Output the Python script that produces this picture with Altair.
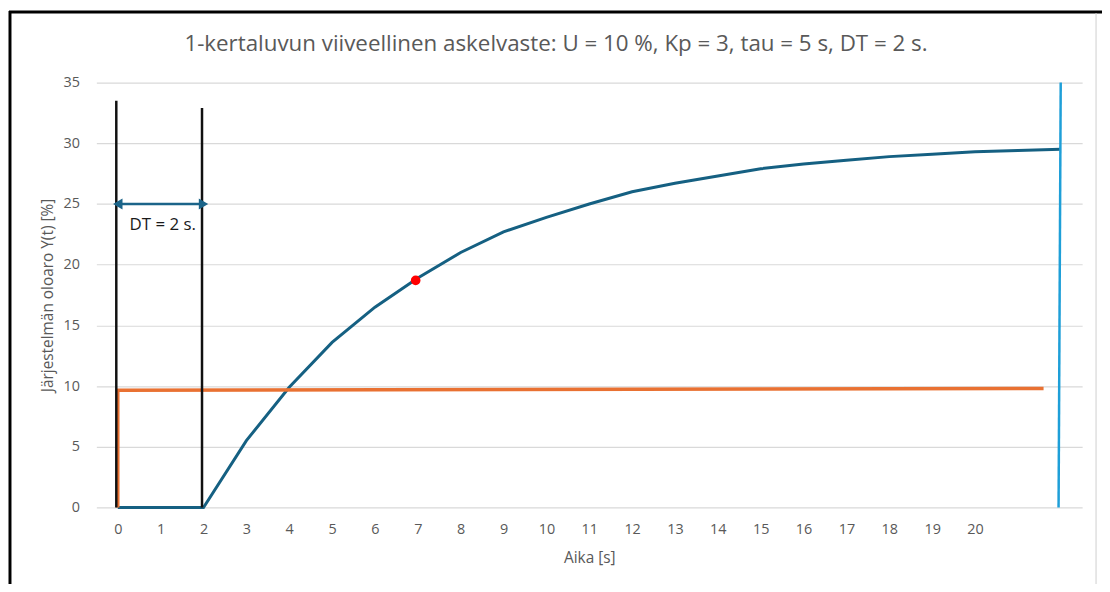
import altair as alt
import pandas as pd

# ---- data ----
time_s = list(range(23))
response = [0, 0, 0, 5.5, 9.9, 13.6, 16.5, 18.9, 21.0, 22.7, 23.9, 25.0, 26.0,
            26.7, 27.3, 27.9, 28.3, 28.6, 28.9, 29.1, 29.3, 29.4, 29.5]

step_t = [0, 0, 21.6]
step_y = [0, 9.65, 9.8]

delay_lines_x = [0, 2]
delay_lines_top = [33.5, 32.9]

end_line_x = [21.95, 22.0]
end_line_y = [0, 35]

dot_t = [6.95]
dot_y = [18.7]

arrow_x = [0, 2]
arrow_y = [25, 25]
arrow_label = "DT = 2 s."
arrow_label_pos = [1.05, 23.3]

x_ticks = list(range(21))
y_ticks = [0, 5, 10, 15, 20, 25, 30, 35]

TITLE = "1-kertaluvun viiveellinen askelvaste: U = 10 %, Kp = 3, tau = 5 s, DT = 2 s."
FONT = "Open Sans"
GRAY = "#595959"

W, H = 993, 428

xs = alt.Scale(domain=[-0.5, 22.5], nice=False, zero=False)
ys = alt.Scale(domain=[0, 35], nice=False)

df_resp = pd.DataFrame({"t": time_s, "y": response})
df_step = pd.DataFrame({"t": step_t, "y": step_y, "o": range(len(step_t))})
df_delay = pd.DataFrame({"x": delay_lines_x, "y0": [0, 0], "y1": delay_lines_top})
df_end = pd.DataFrame({"x": [end_line_x[0]], "x2": [end_line_x[1]],
                       "y": [end_line_y[0]], "y2": [end_line_y[1]]})
df_dot = pd.DataFrame({"t": dot_t, "y": dot_y})
df_arrow = pd.DataFrame({"x": [arrow_x[0]], "x2": [arrow_x[1]], "y": [arrow_y[0]]})
df_heads = pd.DataFrame({"x": arrow_x, "y": arrow_y,
                         "shape": ["triangle-left", "triangle-right"],
                         "off": [5.5, -5.5]})
df_label = pd.DataFrame({"x": [arrow_label_pos[0]], "y": [arrow_label_pos[1]], "txt": [arrow_label]})
df_title = pd.DataFrame({"txt": [TITLE]})

base_x = alt.X("t:Q", scale=xs,
               axis=alt.Axis(title="Aika [s]", values=x_ticks, grid=False, domain=False,
                             ticks=False, labelPadding=15, titlePadding=15, format="d"))
base_y = alt.Y("y:Q", scale=ys,
               axis=alt.Axis(title="Järjestelmän oloaro Y(t) [%]", values=y_ticks, grid=True,
                             domain=False, ticks=False, labelPadding=17, titlePadding=8))

resp = alt.Chart(df_resp).mark_line(color="#156082", strokeWidth=3).encode(x=base_x, y=base_y)

step = alt.Chart(df_step).mark_line(color="#E97132", strokeWidth=3.5).encode(
    x=alt.X("t:Q", scale=xs), y=alt.Y("y:Q", scale=ys), order="o:Q")

delay = alt.Chart(df_delay).mark_rule(color="#111111", strokeWidth=2.5).encode(
    x=alt.X("x:Q", scale=xs), y=alt.Y("y0:Q", scale=ys), y2="y1:Q",
    xOffset=alt.value(-1.5))

end = alt.Chart(df_end).mark_rule(color="#1E9FD8", strokeWidth=2.5).encode(
    x=alt.X("x:Q", scale=xs), x2="x2:Q", y=alt.Y("y:Q", scale=ys), y2="y2:Q")

dot = alt.Chart(df_dot).mark_point(filled=True, color="#FF0000", size=95, opacity=1).encode(
    x=alt.X("t:Q", scale=xs), y=alt.Y("y:Q", scale=ys))

arrow = alt.Chart(df_arrow).mark_rule(color="#1B6489", strokeWidth=2.5).encode(
    x=alt.X("x:Q", scale=xs), x2="x2:Q", y=alt.Y("y:Q", scale=ys))

heads = alt.Chart(df_heads).mark_point(filled=True, color="#1B6489", size=120, opacity=1).encode(
    x=alt.X("x:Q", scale=xs), y=alt.Y("y:Q", scale=ys),
    shape=alt.Shape("shape:N", scale=None), xOffset=alt.XOffset("off:Q", scale=None))

label = alt.Chart(df_label).mark_text(font=FONT, fontSize=17, color="#1a1a1a").encode(
    x=alt.X("x:Q", scale=xs), y=alt.Y("y:Q", scale=ys), text="txt:N")

title = alt.Chart(df_title).mark_text(font=FONT, fontSize=22.5, color=GRAY, align="center",
                                      baseline="middle").encode(
    x=alt.value(463), y=alt.value(-39), text="txt:N")

# outer frame decoration
frame_df = pd.DataFrame({"k": [0]})
frame_top = alt.Chart(frame_df).mark_rule(color="#000000", strokeWidth=3).encode(
    x=alt.value(-88), x2=alt.value(1013), y=alt.value(-71))
frame_left = alt.Chart(frame_df).mark_rule(color="#000000", strokeWidth=3).encode(
    x=alt.value(-87), y=alt.value(-72), y2=alt.value(H + 80))
frame_right = alt.Chart(frame_df).mark_rule(color="#cfcfcf", strokeWidth=1).encode(
    x=alt.value(1007), y=alt.value(-70), y2=alt.value(H + 80))

chart = alt.layer(resp, step, delay, end, arrow, heads, label, dot, title,
                  frame_top, frame_left, frame_right).properties(
    width=W, height=H,
    autosize=alt.AutoSizeParams(type="none"),
    padding={"left": 89, "top": 73, "right": 20, "bottom": 75},
).configure(background="white").configure_view(stroke=None).configure_axis(
    labelFont=FONT, titleFont=FONT, labelFontSize=14.5, titleFontSize=15.5,
    labelColor=GRAY, titleColor=GRAY, titleFontWeight="normal",
    gridColor="#d9d9d9", gridWidth=1.2,
)

chart.save("out.html", embed_options={"renderer": "svg", "actions": False})
